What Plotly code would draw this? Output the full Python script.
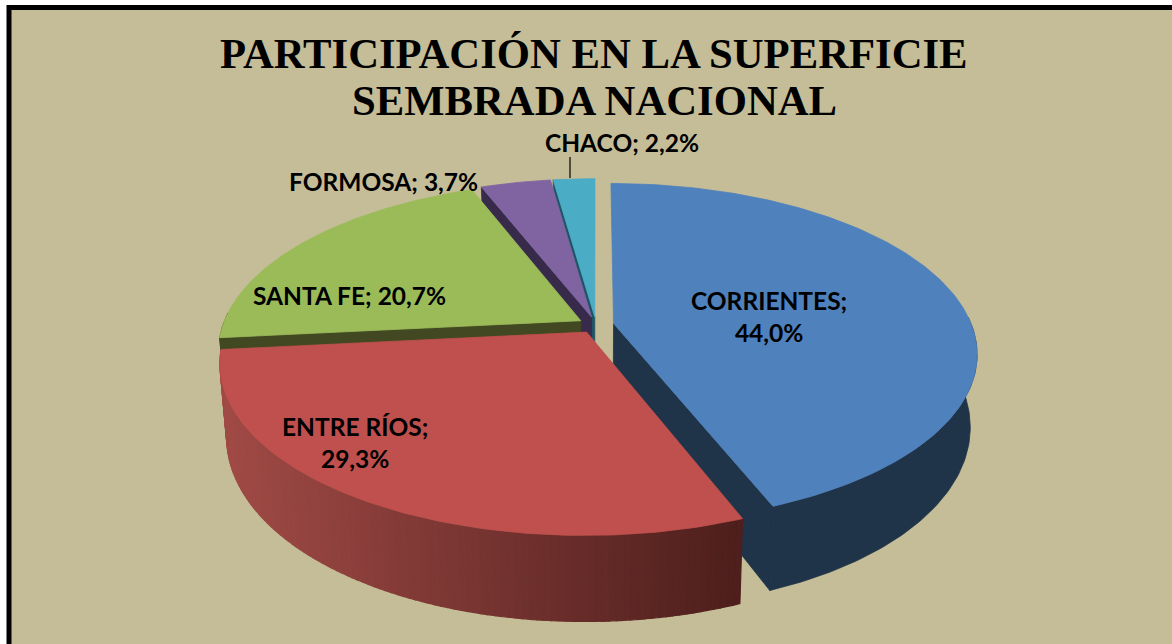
import math
import plotly.graph_objects as go

# ---- data ----
title_lines = ["PARTICIPACIÓN EN LA SUPERFICIE", "SEMBRADA NACIONAL"]
categories = ["CORRIENTES", "ENTRE RÍOS", "SANTA FE", "FORMOSA", "CHACO"]
values = [44.0, 29.3, 20.7, 3.7, 2.2]

# ---- styles ----
top_colors = ["#4F81BD", "#C0504D", "#9BBB59", "#8064A2", "#4BACC6"]
wall_colors = ["#1F3349", "#4E1F1C", "#414822", "#372A4A", "#1E5566"]
BG = "#C4BD97"

# ---- projection of the tilted pie (perspective ellipse) ----
CX, CY = 596, 325
A, B = 358, 165      # radii of the top ellipse
P = 0.175            # perspective strength
EXPLODE = 0.05
K = 0.982            # shrink of the bottom face
DZ, DZF = 70, 19     # depth at the sides and extra depth towards the viewer


def project(t, r, m, bottom=False):
    wx = r * math.sin(t) + EXPLODE * math.sin(m)
    wf = -r * math.cos(t) - EXPLODE * math.cos(m)
    s = 1 / (1 - P * wf)
    if bottom:
        return (CX + A * wx * s * K, CY + B * wf * s * K + DZ + DZF * wf)
    return (CX + A * wx * s, CY + B * wf * s)


def poly(points, color, lw=0.8):
    return go.Scatter(
        x=[p[0] for p in points] + [points[0][0]],
        y=[p[1] for p in points] + [points[0][1]],
        mode="lines", fill="toself", fillcolor=color,
        line=dict(color=color, width=lw), hoverinfo="skip", showlegend=False,
    )


def mix(c0, c1, f):
    return "rgb(%d,%d,%d)" % tuple(round(a + (b - a) * f) for a, b in zip(c0, c1))


total = sum(values)
spans = []
acc = 0.0
for v in values:
    spans.append((acc / total * 2 * math.pi, (acc + v) / total * 2 * math.pi))
    acc += v

fig = go.Figure()
for i in [4, 3, 2, 0, 1]:                 # painter's order, back to front
    t0, t1 = spans[i]
    m = (t0 + t1) / 2
    n = max(6, int((t1 - t0) * 60))
    ts = [t0 + (t1 - t0) * j / n for j in range(n + 1)]
    # only the cut face turned towards the viewer
    if i != 1:
        t = t1 if m < math.pi else t0
        fig.add_trace(poly([project(t, 0, m), project(t, 1, m),
                            project(t, 1, m, True), project(t, 0, m, True)], wall_colors[i]))
    # rim, front half only
    front = [t for t in ts if -math.cos(t) > -0.05]
    if i == 1:
        for a, b in zip(front[:-1], front[1:]):
            xa = project(a, 1, m)[0]
            color = mix((78, 31, 28), (160, 74, 70), min(1, max(0, (737 - xa) / 510)))
            fig.add_trace(poly([project(a, 1, m), project(b, 1, m),
                                project(b, 1, m, True), project(a, 1, m, True)], color, lw=1.2))
    elif len(front) > 1:
        fig.add_trace(poly([project(t, 1, m) for t in front] +
                           [project(t, 1, m, True) for t in reversed(front)], wall_colors[i]))
    # top
    fig.add_trace(poly([project(0, 0, m)] + [project(t, 1, m) for t in ts], top_colors[i]))

# ---- labels ----
label_text = [f"{c}; {v:.1f}%".replace(".", ",") for c, v in zip(categories, values)]
label_text[0] = label_text[0].replace("; ", ";<br>")
label_text[1] = label_text[1].replace("; ", ";<br>")
label_pos = [(769, 316), (355, 442), (349, 295), (383, 181), (622, 142)]
for txt, (x, y) in zip(label_text, label_pos):
    fig.add_annotation(x=x, y=y, text=f"<b>{txt}</b>", showarrow=False, xanchor="center", yanchor="middle",
                       font=dict(family="Lato", size=24.5, color="black"), align="center")

for line, y in zip(title_lines, (53, 100)):
    fig.add_annotation(x=594, y=y, text=f"<b>{line}</b>", showarrow=False, xanchor="center", yanchor="middle",
                       font=dict(family="Liberation Serif", size=42.7, color="black"))

fig.update_layout(
    width=1172, height=644, margin=dict(l=0, r=0, t=0, b=0),
    paper_bgcolor="white", plot_bgcolor="rgba(0,0,0,0)", showlegend=False,
    xaxis=dict(range=[0, 1172], visible=False, fixedrange=True),
    yaxis=dict(range=[644, 0], visible=False, fixedrange=True),
    shapes=[
        dict(type="rect", xref="x", yref="y", x0=9, y0=7.5, x1=1230, y1=720,
             fillcolor=BG, line=dict(color="black", width=5), layer="below"),
        dict(type="line", xref="x", yref="y", x0=570, y0=157, x1=570, y1=178,
             line=dict(color="black", width=1.2)),
    ],
)
fig.write_html("out.html", config={"displayModeBar": False},
               post_script="document.body.style.margin='0';document.documentElement.style.overflow='hidden';")
